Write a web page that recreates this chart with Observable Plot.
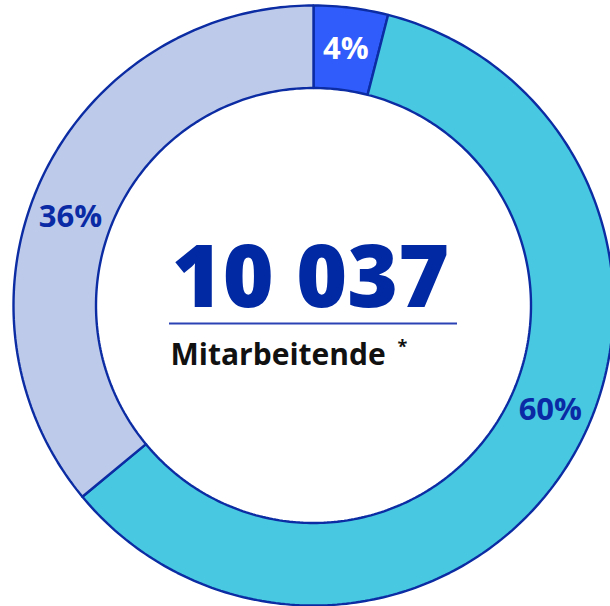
<!DOCTYPE html>
<html>
<head>
<meta charset="utf-8">
<script src="https://cdn.jsdelivr.net/npm/d3@7"></script>
<script src="https://cdn.jsdelivr.net/npm/@observablehq/plot@0.6"></script>
<style>
  html, body { margin: 0; padding: 0; background: #ffffff; }
  #chart svg { display: block; font-family: "Open Sans", "Noto Sans", sans-serif; }
</style>
</head>
<body>
<div id="chart"></div>
<script>
// ---- data ----
const segmentLabels = ["4%", "60%", "36%"];
const segmentShares = [4, 60, 36];
const totalValue = "10 037";
const totalLabel = "Mitarbeitende";
const footnoteMark = "*";

// ---- styles ----
const palette = ["#2f5cfb", "#48c8e1", "#bdcaea"];
const labelInk = ["#ffffff", "#0a2aa5", "#0a2aa5"];
const outline = "#0b2ca3";

// ---- geometry (in units of outer radius) ----
const W = 610, H = 606, CX = 313, CY = 305, R = 300;
const innerRatio = 0.725;
const labelFrac = 0.46;
const toX = px => (px - CX) / R;
const toY = py => (CY - py) / R;

const total = d3.sum(segmentShares);
const rings = [];
const labelRows = [];
let acc = 0;
segmentShares.forEach((v, i) => {
  const a0 = acc / total * 2 * Math.PI;
  acc += v;
  const a1 = acc / total * 2 * Math.PI;
  const n = Math.max(8, Math.ceil(v * 4));
  const pts = [];
  for (let k = 0; k <= n; k++) {
    const a = a0 + (a1 - a0) * k / n;
    pts.push({x: Math.sin(a), y: Math.cos(a)});
  }
  for (let k = n; k >= 0; k--) {
    const a = a0 + (a1 - a0) * k / n;
    pts.push({x: innerRatio * Math.sin(a), y: innerRatio * Math.cos(a)});
  }
  pts.push(pts[0]);
  pts.forEach(p => rings.push({...p, seg: segmentLabels[i]}));
  const am = a0 + (a1 - a0) * (i === 0 ? 0.5 : labelFrac);
  const rm = (1 + innerRatio) / 2;
  labelRows.push({x: rm * Math.sin(am), y: rm * Math.cos(am), text: segmentLabels[i], ink: labelInk[i]});
});

const chart = Plot.plot({
  width: W,
  height: H,
  margin: 0,
  x: {domain: [toX(0), toX(W)], axis: null},
  y: {domain: [toY(H), toY(0)], axis: null},
  color: {domain: segmentLabels, range: palette},
  marks: [
    Plot.line(rings, {x: "x", y: "y", z: "seg", fill: "seg", stroke: outline, strokeWidth: 2.4, strokeLinejoin: "miter", curve: "linear"}),
    Plot.text(labelRows, {x: "x", y: "y", text: "text", fill: "ink", fontSize: 31, fontWeight: 700, textAnchor: "middle", lineAnchor: "middle"}),
    Plot.text([totalValue], {x: toX(310), y: toY(306), text: d => d, fontSize: 87, fontWeight: 800, fill: "#0029a3", textAnchor: "middle", lineAnchor: "bottom"}),
    Plot.ruleY([toY(323)], {x1: toX(169), x2: toX(457), stroke: "#2a42b4", strokeWidth: 2.2}),
    Plot.text([totalLabel], {x: toX(170), y: toY(364), text: d => d, fontSize: 30, fontWeight: 700, fill: "#111111", textAnchor: "start", lineAnchor: "bottom"}),
    Plot.text([footnoteMark], {x: toX(402), y: toY(352), text: d => d, fontSize: 18, fontWeight: 700, fill: "#111111", textAnchor: "middle", lineAnchor: "bottom"})
  ]
});
document.getElementById("chart").append(chart);
</script>
</body>
</html>
